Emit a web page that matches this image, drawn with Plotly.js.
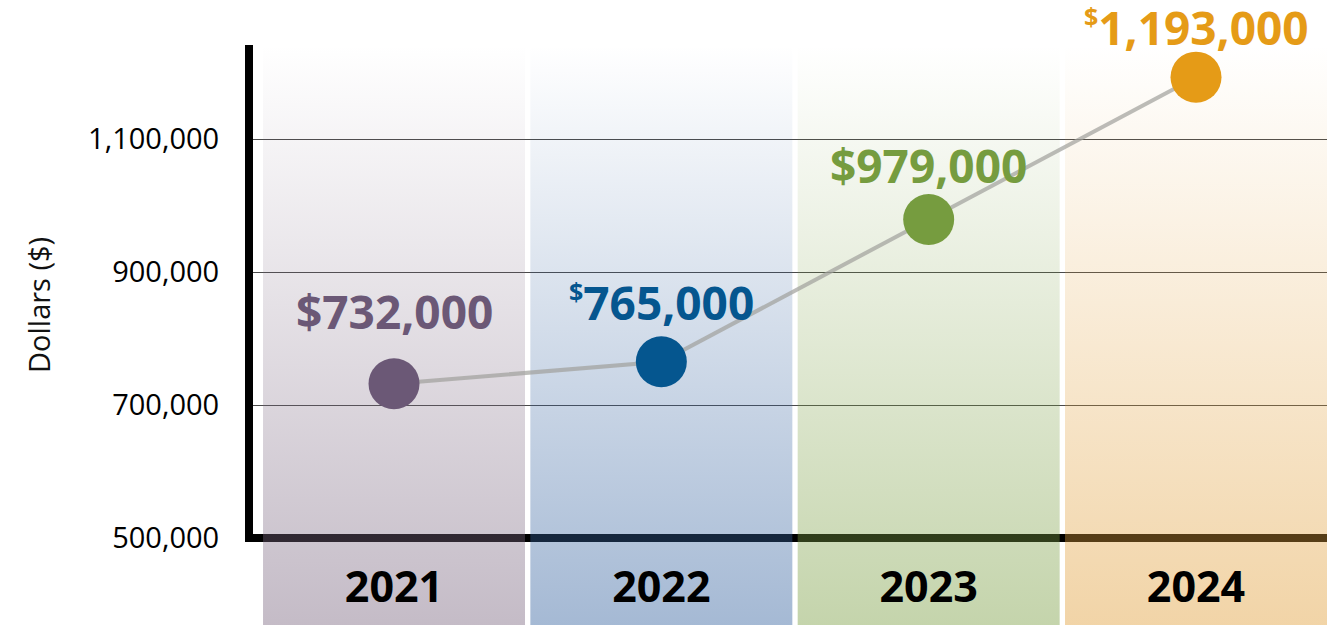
<!DOCTYPE html>
<html>
<head>
<meta charset="utf-8">
<script src="https://cdn.plot.ly/plotly-3.0.1.min.js"></script>
<style>
html, body { margin:0; padding:0; background:#fff; }
#chart { width:1333px; height:625px; }
</style>
</head>
<body>
<div id="chart"></div>
<script>
// ---- data ----
const years = ['2021', '2022', '2023', '2024'];
const dollars = [732000, 765000, 979000, 1193000];
const yTicks = [500000, 700000, 900000, 1100000];

// ---- style ----
const dotColors = ['#6b5876', '#05568f', '#769c3f', '#e59b17'];
const bandRGB = ['125,105,130', '55,100,160', '125,160,70', '225,160,60'];
const smallDollar = [false, true, false, true];
const labelLift = [73, 60, 54, 50];

const FONT = '"Open Sans", "Noto Sans", sans-serif';
const W = 1333, H = 625;
const margin = {l:245, r:6, t:45, b:0};
const plotW = W - margin.l - margin.r;
const plotH = H - margin.t - margin.b;
const xRange = [-0.5574, 3.49];
const yRange = [369200, 1241350];
const xs = years.map((_, i) => i);
const axisPos = (yTicks[0] - yRange[0]) / (yRange[1] - yRange[0]);

// ---- colour bands (fade out towards the top) ----
const bands = years.map((yr, i) => ({
    x: [i - 0.49, i + 0.49, i + 0.49, i - 0.49],
    y: [yRange[0], yRange[0], yRange[1], yRange[1]],
    mode: 'lines', fill: 'toself', line: {width: 0},
    fillcolor: `rgba(${bandRGB[i]},0.25)`,
    fillgradient: {type: 'vertical', colorscale: [[0, `rgba(${bandRGB[i]},0.45)`], [1, `rgba(${bandRGB[i]},0)`]]},
    hoverinfo: 'skip', showlegend: false
}));

// ---- the series ----
const series = {
    x: xs, y: dollars, mode: 'lines+markers',
    line: {color: 'rgba(160,160,155,0.7)', width: 4},
    marker: {size: 51, color: dotColors, line: {width: 0}},
    hoverinfo: 'y', showlegend: false
};

// ---- value labels ----
const valueNotes = dollars.map((v, i) => ({
    x: i, y: v, xref: 'x', yref: 'y', showarrow: false,
    xanchor: 'center', yanchor: 'middle', yshift: labelLift[i],
    text: (smallDollar[i] ? '<sup><span style="font-size:25px">$</span></sup>' : '$') + v.toLocaleString('en-US'),
    font: {family: FONT, size: 46, color: dotColors[i], weight: 700}
}));

const layout = {
    width: W, height: H, margin: margin,
    paper_bgcolor: '#fff', plot_bgcolor: 'rgba(0,0,0,0)',
    xaxis: {
        range: xRange, tickvals: xs, ticktext: years,
        anchor: 'free', position: axisPos,
        showgrid: false, zeroline: false, showline: false,
        ticks: 'outside', ticklen: 11, tickcolor: 'rgba(0,0,0,0)',
        tickfont: {family: FONT, size: 43, color: '#000', weight: 700},
        fixedrange: true
    },
    yaxis: {
        range: yRange, tickvals: yTicks, tickformat: ',d',
        showgrid: true, gridcolor: '#4a4a4a', gridwidth: 1,
        zeroline: false, showline: false,
        ticks: 'outside', ticklen: 19, tickcolor: 'rgba(0,0,0,0)',
        tickfont: {family: FONT, size: 29, color: '#000'},
        fixedrange: true
    },
    shapes: [
        // thick x axis line, under the bands
        {type: 'line', layer: 'between', xref: 'x', yref: 'y',
         x0: xRange[0], x1: xRange[1], y0: yTicks[0], y1: yTicks[0],
         line: {color: '#000', width: 8}},
        // y axis line
        {type: 'line', layer: 'above', xref: 'paper', yref: 'paper',
         x0: 4 / plotW, x1: 4 / plotW, y0: axisPos - 4 / plotH, y1: 1,
         line: {color: '#000', width: 8}}
    ],
    annotations: valueNotes.concat([{
        text: 'Dollars ($)', xref: 'paper', yref: 'paper',
        x: (38 - margin.l) / plotW, y: (H - 305 - margin.b) / plotH,
        xanchor: 'center', yanchor: 'middle',
        textangle: -90, showarrow: false,
        font: {family: FONT, size: 29, color: '#111'}
    }])
};

Plotly.newPlot('chart', bands.concat([series]), layout, {displayModeBar: false, staticPlot: true});
</script>
</body>
</html>
